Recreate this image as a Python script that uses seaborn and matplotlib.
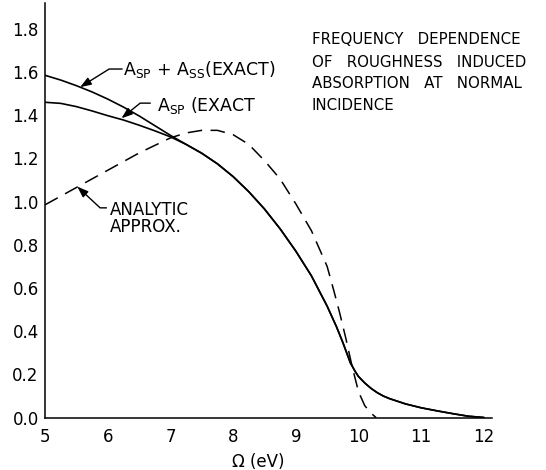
import numpy as np
import pandas as pd
import matplotlib
matplotlib.use("Agg")
import matplotlib.pyplot as plt
import seaborn as sns

# ---------------- data ----------------
x_exact = [5.0, 5.25, 5.5, 5.75, 6.0, 6.25, 6.5, 6.75, 7.0, 7.25, 7.5, 7.75,
           8.0, 8.25, 8.5, 8.75, 9.0, 9.25, 9.5, 9.65, 9.75, 9.87, 9.95,
           10.0, 10.1, 10.2, 10.3, 10.4, 10.5, 10.75, 11.0, 11.25, 11.5,
           11.75, 12.0]
a_sp_ss = [1.585, 1.563, 1.537, 1.508, 1.475, 1.438, 1.397, 1.352, 1.307, 1.265,
           1.224, 1.175, 1.116, 1.046, 0.966, 0.874, 0.771, 0.656, 0.516, 0.42,
           0.348, 0.254, 0.212, 0.19, 0.16, 0.135, 0.115, 0.099, 0.087, 0.063,
           0.045, 0.031, 0.018, 0.006, 0.0]
a_sp = [1.46, 1.455, 1.44, 1.42, 1.398, 1.378, 1.354, 1.328, 1.30, 1.265,
        1.224, 1.175, 1.116, 1.046, 0.966, 0.874, 0.771, 0.656, 0.516, 0.42,
        0.348, 0.254, 0.212, 0.19, 0.16, 0.135, 0.115, 0.099, 0.087, 0.063,
        0.045, 0.031, 0.018, 0.006, 0.0]

x_analytic = [5.0, 5.5, 6.0, 6.5, 7.0, 7.25, 7.5, 7.75, 8.0, 8.25, 8.5, 8.75,
              9.0, 9.25, 9.5, 9.6, 9.7, 9.8, 9.9, 10.0, 10.1, 10.2, 10.28]
analytic = [0.985, 1.065, 1.145, 1.225, 1.295, 1.318, 1.330, 1.330, 1.31, 1.265,
            1.19, 1.105, 0.99, 0.865, 0.70, 0.595, 0.485, 0.365, 0.235, 0.12,
            0.055, 0.02, 0.0]

x_ticks = [5, 6, 7, 8, 9, 10, 11, 12]
x_tick_labels = ["5", "6", "7", "8", "9", "10", "11", "12"]
y_ticks = [0.0, 0.2, 0.4, 0.6, 0.8, 1.0, 1.2, 1.4, 1.6, 1.8]
y_tick_labels = ["0.0", "0.2", "0.4", "0.6", "0.8", "1.0", "1.2", "1.4", "1.6", "1.8"]

title_lines = ["FREQUENCY   DEPENDENCE", "OF   ROUGHNESS   INDUCED",
               "ABSORPTION   AT   NORMAL", "INCIDENCE"]
label_sum = r"A$_{\rm SP}$ + A$_{\rm SS}$(EXACT)"
label_sp = r"A$_{\rm SP}$ (EXACT"
label_analytic = ["ANALYTIC", "APPROX."]
x_label = "Ω (eV)"

# ---------------- plotting ----------------
sns.set_theme(style="white")
plt.rcParams["font.family"] = ["DejaVu Sans"]
plt.rcParams["mathtext.fontset"] = "dejavusans"

fig = plt.figure(figsize=(5.46, 4.70), dpi=100)
ax = fig.add_axes([0.0824, 0.1117, 0.8187, 0.882])

df_sum = pd.DataFrame({"x": x_exact, "y": a_sp_ss})
df_sp = pd.DataFrame({"x": x_exact, "y": a_sp})
df_an = pd.DataFrame({"x": x_analytic, "y": analytic})

sns.lineplot(data=df_sum, x="x", y="y", ax=ax, color="black", lw=1.2,
             errorbar=None)
sns.lineplot(data=df_sp, x="x", y="y", ax=ax, color="black", lw=1.2,
             errorbar=None)
sns.lineplot(data=df_an, x="x", y="y", ax=ax, color="black", lw=1.1,
             errorbar=None, linestyle=(0, (9.5, 5.5)))

ax.set_xlim(5, 12.13)
ax.set_ylim(0, 1.92)
ax.set_xticks(x_ticks)
ax.set_xticklabels(x_tick_labels)
ax.set_yticks(y_ticks)
ax.set_yticklabels(y_tick_labels)

for s in ["top", "right"]:
    ax.spines[s].set_visible(False)
for s in ["left", "bottom"]:
    ax.spines[s].set_color("black")
    ax.spines[s].set_linewidth(1.1)

ax.tick_params(axis="both", direction="inout", length=7, width=1.0,
               color="black", labelsize=12, labelcolor="black")
ax.tick_params(axis="y", pad=1)
ax.tick_params(axis="x", pad=4)

ax.set_xlabel(x_label, fontsize=12, color="black")
ax.set_ylabel("")
ax.xaxis.set_label_coords(0.476, -0.085)

# title block
tx = 0.597
baselines_px = [44, 66.7, 88.3, 110]
for line, bpx in zip(title_lines, baselines_px):
    ax.text(tx, (417.5 - bpx) / 414.5, line, transform=ax.transAxes,
            ha="left", va="baseline", fontsize=10.8, color="black")

arrow_kw = dict(arrowstyle="-|>,head_length=0.55,head_width=0.2",
                color="black", lw=1.0, shrinkA=0, shrinkB=0)

# A_SP + A_SS label
ax.text(6.245, 1.587, label_sum, ha="left", va="baseline", fontsize=12.5,
        color="black")
ax.annotate("", xy=(5.56, 1.530), xytext=(6.23, 1.614),
            arrowprops=dict(connectionstyle="angle,angleA=0,angleB=32,rad=0",
                            **arrow_kw))

# A_SP label
ax.text(6.78, 1.4217, label_sp, ha="left", va="baseline", fontsize=12.5,
        color="black")
ax.annotate("", xy=(6.22, 1.386), xytext=(6.68, 1.456),
            arrowprops=dict(connectionstyle="angle,angleA=0,angleB=39,rad=0",
                            **arrow_kw))

# Analytic approx label
ax.text(6.04, 0.938, label_analytic[0], ha="left", va="baseline", fontsize=12,
        color="black")
ax.text(6.04, 0.860, label_analytic[1], ha="left", va="baseline", fontsize=12,
        color="black")
ax.annotate("", xy=(5.515, 1.0695), xytext=(5.98, 0.971),
            arrowprops=dict(connectionstyle="angle,angleA=0,angleB=-43,rad=0",
                            **arrow_kw))

fig.savefig("out.png", dpi=100, facecolor="white")
